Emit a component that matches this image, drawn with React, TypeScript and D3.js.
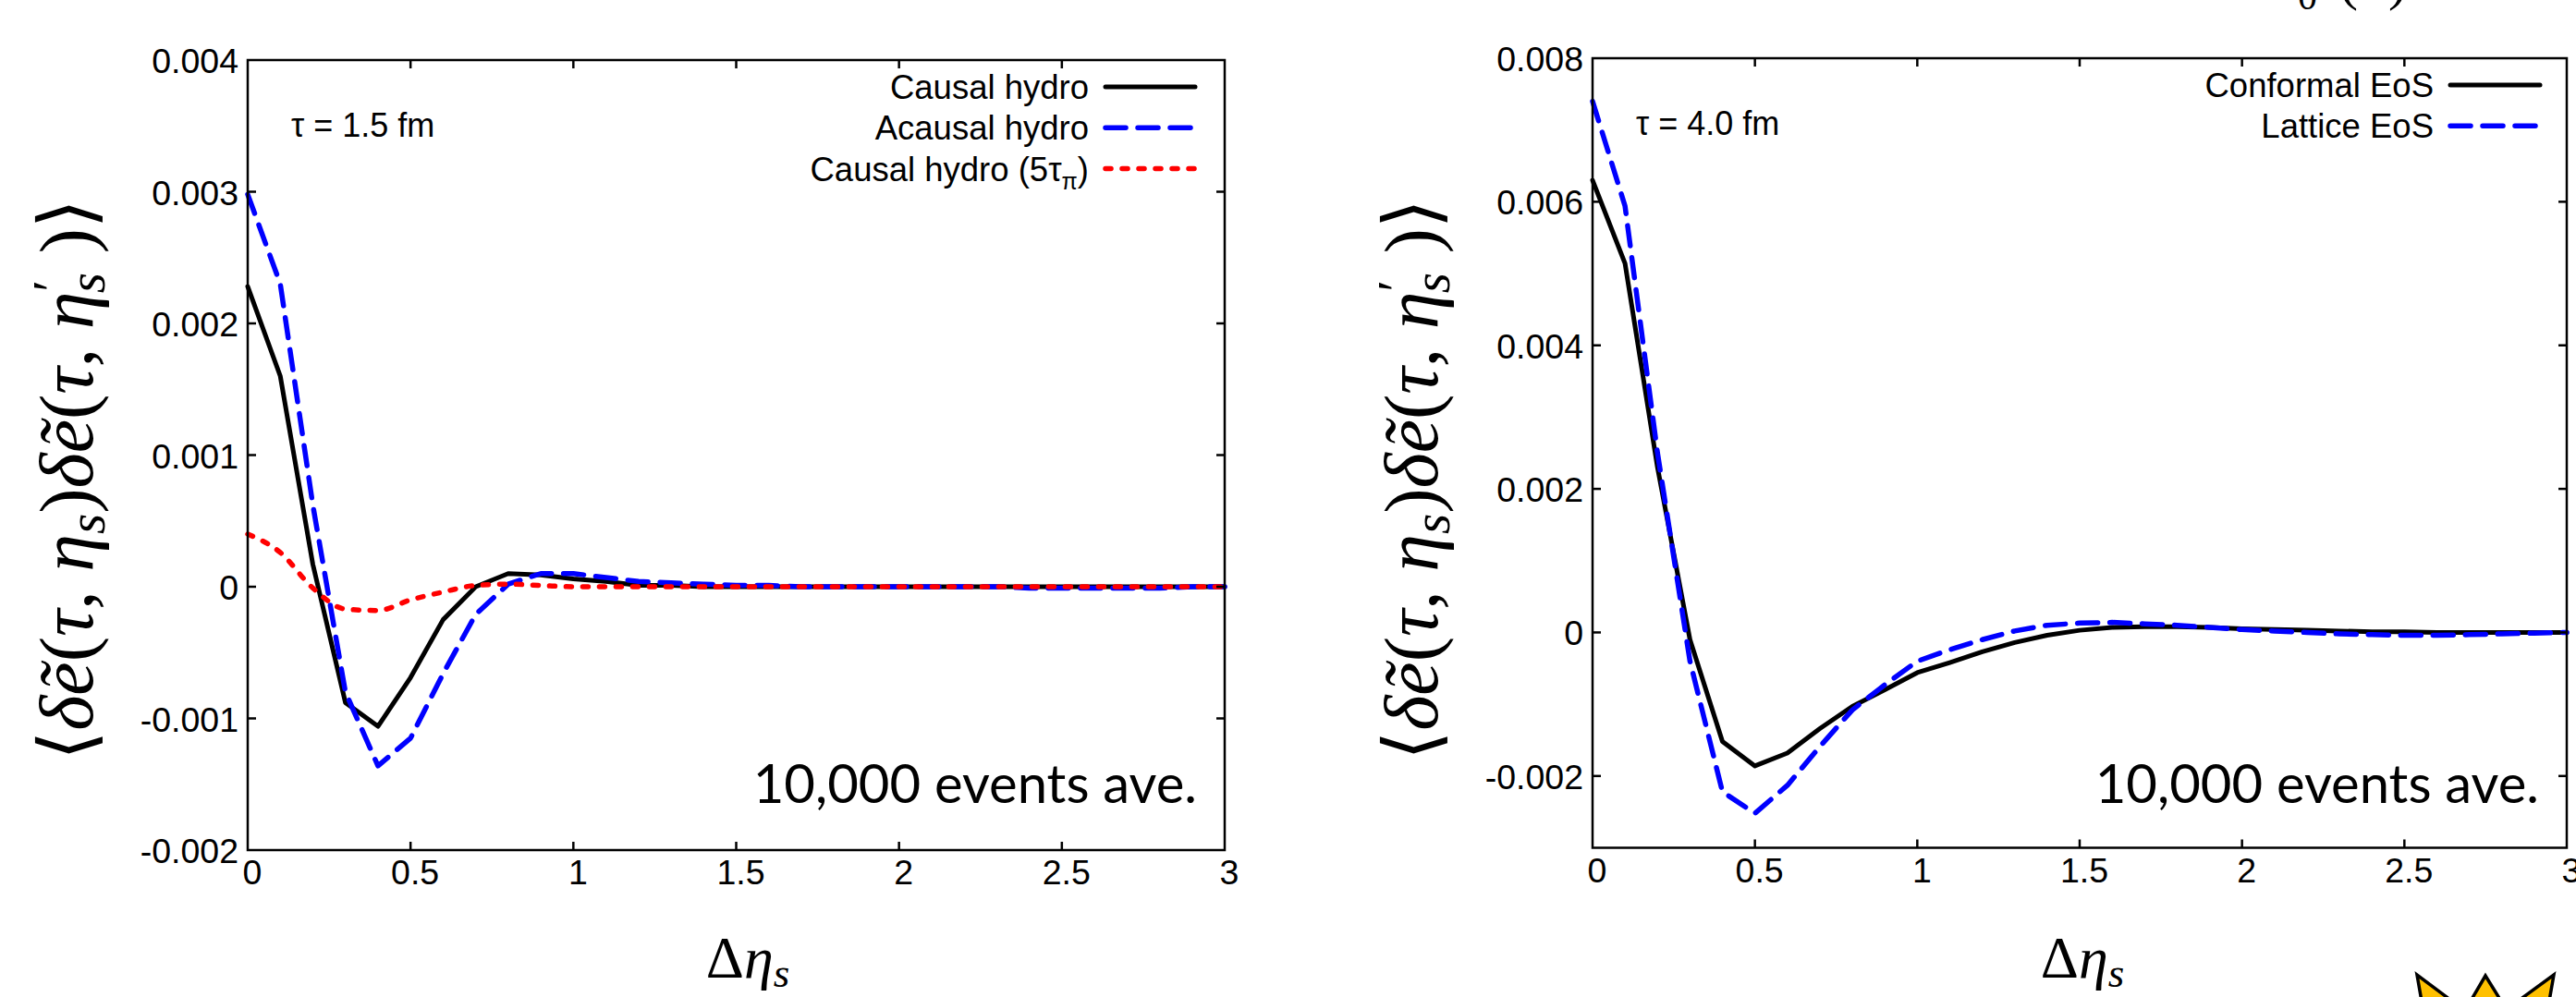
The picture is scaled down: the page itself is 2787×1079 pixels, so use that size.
import React from "react";
import * as d3 from "d3";

// Δη_s grid (step 0.1)
const etaS = [0, 0.1, 0.2, 0.3, 0.4, 0.5, 0.6, 0.7, 0.8, 0.9, 1, 1.1, 1.2, 1.3, 1.4, 1.5, 1.6, 1.7, 1.8, 1.9, 2, 2.1, 2.2, 2.3, 2.4, 2.5, 2.6, 2.7, 2.8, 2.9, 3];

// tau = 1.5 fm panel
const causalHydro = [0.00228, 0.0016, 0.00017, -0.00088, -0.00106, -0.00069, -0.00025, 0.0, 0.0001, 0.00009, 0.00006, 0.00004, 0.00001, 0.00001, 0, 0, 0, 0, 0, 0, 0, 0, 0, 0, 0, 0, 0, 0, 0, 0, 0];
const acausalHydro = [0.00298, 0.0023, 0.00062, -0.0008, -0.00136, -0.00115, -0.00066, -0.00021, 0.00002, 0.0001, 0.0001, 0.00007, 0.00004, 0.00003, 0.00002, 0.00001, 0.00001, 0, 0, 0, 0, 0, 0, 0, -0.00001, -0.00001, -0.00001, -0.00001, -0.00001, 0, 0];
const causalHydro5 = [0.0004, 0.00026, -0.00001, -0.00017, -0.00018, -0.0001, -0.00004, 0.00001, 0.00002, 0.00001, 0, 0, 0, 0, 0, 0, 0, 0, 0, 0, 0, 0, 0, 0, 0, 0, 0, 0, 0, 0, 0];

// tau = 4.0 fm panel
const conformalEoS = [0.0063, 0.00514, 0.0023, -0.0001, -0.00152, -0.00186, -0.00168, -0.00134, -0.00103, -0.0008, -0.00056, -0.00042, -0.00027, -0.00014, -0.00004, 0.00003, 0.00007, 0.00008, 0.00008, 0.00007, 0.00005, 0.00004, 0.00003, 0.00002, 0.00001, 0.00001, 0, 0, 0, 0, 0];
const latticeEoS = [0.0074, 0.00594, 0.0025, -0.0004, -0.00222, -0.00252, -0.00213, -0.00159, -0.00108, -0.00073, -0.0004, -0.00024, -0.0001, 0.00002, 0.0001, 0.00013, 0.00014, 0.00012, 0.0001, 0.00007, 0.00004, 0.00002, 0, -0.00002, -0.00003, -0.00004, -0.00004, -0.00003, -0.00002, -0.00001, 0];

const xTicks = [0, 0.5, 1, 1.5, 2, 2.5, 3];
const leftYTicks = [-0.002, -0.001, 0, 0.001, 0.002, 0.003, 0.004];
const rightYTicks = [-0.002, 0, 0.002, 0.004, 0.006, 0.008];

const SANS = "'Liberation Sans', Arial, sans-serif";
const SERIF = "'Liberation Serif', 'DejaVu Serif', serif";

const fmtY = (v: number) => (Math.abs(v) < 1e-12 ? "0" : v.toFixed(3));

type Series = {
  name: React.ReactNode;
  values: number[];
  color: string;
  dash?: string;
  width: number;
  smooth?: boolean;
};

type PanelProps = {
  x0: number; x1: number; y0: number; y1: number;
  yDomain: [number, number];
  yTicks: number[];
  series: Series[];
  tau: string;
  legendRight: number;
  xTitleX: number;
};

function YTitle({ x, y }: { x: number; y: number }) {
  return (
    <text transform={`translate(${x},${y}) rotate(-90)`} textAnchor="middle" fontFamily={SERIF} fontSize={82} fill="black">
      <tspan>⟨</tspan>
      <tspan fontStyle="italic">δẽ</tspan>
      <tspan>(</tspan>
      <tspan fontStyle="italic">τ</tspan>
      <tspan>, </tspan>
      <tspan fontStyle="italic">η</tspan>
      <tspan fontStyle="italic" fontSize={57} dy={13}>s</tspan>
      <tspan dy={-13}>)</tspan>
      <tspan fontStyle="italic">δẽ</tspan>
      <tspan>(</tspan>
      <tspan fontStyle="italic">τ</tspan>
      <tspan>, </tspan>
      <tspan fontStyle="italic">η</tspan>
      <tspan fontSize={57} dy={-25}>′</tspan>
      <tspan fontStyle="italic" fontSize={57} dx={-14} dy={38}>s</tspan>
      <tspan dy={-13}> )⟩</tspan>
    </text>
  );
}

function Panel({ x0, x1, y0, y1, yDomain, yTicks, series, tau, legendRight, xTitleX }: PanelProps) {
  const xScale = d3.scaleLinear().domain([0, 3]).range([x0, x1]);
  const yScale = d3.scaleLinear().domain(yDomain).range([y1, y0]);
  const tickLen = 9;

  return (
    <g>
      {series.map((s, k) => {
        const line = d3.line<number>()
          .x((_, i) => xScale(etaS[i]))
          .y((d) => yScale(d))
          .curve(s.smooth ? d3.curveMonotoneX : d3.curveLinear);
        return (
          <path key={k} d={line(s.values) || ""} fill="none" stroke={s.color} strokeWidth={s.width}
            strokeDasharray={s.dash} strokeLinecap="round" strokeLinejoin="round" />
        );
      })}

      <rect x={x0} y={y0} width={x1 - x0} height={y1 - y0} fill="none" stroke="black" strokeWidth={2.5} />

      {xTicks.map((t) => (
        <g key={"x" + t}>
          {t > 0 && t < 3 && (
            <>
              <line x1={xScale(t)} x2={xScale(t)} y1={y1} y2={y1 - tickLen} stroke="black" strokeWidth={2.5} />
              <line x1={xScale(t)} x2={xScale(t)} y1={y0} y2={y0 + tickLen} stroke="black" strokeWidth={2.5} />
            </>
          )}
          <text x={xScale(t) + 5} y={y1 + 37} textAnchor="middle" fontFamily={SANS} fontSize={37.5} fill="black">{String(t)}</text>
        </g>
      ))}

      {yTicks.map((t) => (
        <g key={"y" + t}>
          {t > yDomain[0] && t < yDomain[1] && (
            <>
              <line x1={x0} x2={x0 + tickLen} y1={yScale(t)} y2={yScale(t)} stroke="black" strokeWidth={2.5} />
              <line x1={x1} x2={x1 - tickLen} y1={yScale(t)} y2={yScale(t)} stroke="black" strokeWidth={2.5} />
            </>
          )}
          <text x={x0 - 10} y={yScale(t) + 14} textAnchor="end" fontFamily={SANS} fontSize={37.5} fill="black">{fmtY(t)}</text>
        </g>
      ))}

      {series.map((s, k) => {
        const ry = y0 + 29 + k * 44.3;
        return (
          <g key={"lg" + k}>
            <text x={legendRight - 115} y={ry + 13} textAnchor="end" fontFamily={SANS} fontSize={36.5} fill="black">{s.name}</text>
            <line x1={legendRight - 97} x2={legendRight} y1={ry} y2={ry} stroke={s.color} strokeWidth={s.width}
              strokeDasharray={s.dash} strokeLinecap="round" />
          </g>
        );
      })}

      <text x={x0 + 47} y={y0 + 83} fontFamily={SANS} fontSize={36} fill="black">{tau}</text>
      <text x={x1 - 30} y={869} textAnchor="end" fontFamily="Lato, 'Open Sans', sans-serif" fontSize={58} fill="black">10,000 events ave.</text>

      <YTitle x={x0 - 168} y={519} />
      <text x={xTitleX} y={1058} textAnchor="middle" fontFamily={SERIF} fontSize={64} fill="black">
        <tspan>Δ</tspan>
        <tspan fontStyle="italic">η</tspan>
        <tspan fontStyle="italic" fontSize={45} dy={10}>s</tspan>
      </text>
    </g>
  );
}

export default function App() {
  const solid = undefined;
  const dashed = "22 13";
  const dotted = "6 12";
  return (
    <svg width={2787} height={1079} style={{ position: "absolute", left: 0, top: 0, display: "block" }}>
      <rect x={0} y={0} width={2787} height={1079} fill="white" />
      <Panel
        x0={268} x1={1325} y0={65} y1={920}
        yDomain={[-0.002, 0.004]} yTicks={leftYTicks}
        tau="τ = 1.5 fm" legendRight={1293} xTitleX={809}
        series={[
          { name: "Causal hydro", values: causalHydro, color: "black", dash: solid, width: 5 },
          { name: "Acausal hydro", values: acausalHydro, color: "#0000ff", dash: dashed, width: 5.5 },
          {
            name: (<><tspan>Causal hydro (5τ</tspan><tspan fontSize={25} dy={9}>π</tspan><tspan dy={-9}>)</tspan></>),
            values: causalHydro5, color: "#ff0000", dash: dotted, width: 5.5, smooth: true,
          },
        ]}
      />
      <Panel
        x0={1723} x1={2777} y0={63} y1={917.5}
        yDomain={[-0.003, 0.008]} yTicks={rightYTicks}
        tau="τ = 4.0 fm" legendRight={2748} xTitleX={2253}
        series={[
          { name: "Conformal EoS", values: conformalEoS, color: "black", dash: solid, width: 5 },
          { name: "Lattice EoS", values: latticeEoS, color: "#0000ff", dash: dashed, width: 5.5 },
        ]}
      />

      {/* cut-off label above the right panel */}
      <text y={-1} fontFamily={SERIF} fontSize={60} fill="black">
        <tspan x={2440} fontStyle="italic">ε</tspan>
        <tspan x={2486} dy={11} fontSize={42}>0</tspan>
        <tspan x={2531} dy={-11}>(</tspan>
        <tspan fontStyle="italic">τ</tspan>
        <tspan x={2584}>)</tspan>
      </text>

      {/* crown decoration, bottom right */}
      <polygon
        points="2622,1095 2615,1055 2655,1085 2672,1085 2689,1056 2707,1085 2722,1085 2763,1055 2756,1095"
        fill="#ffc000" stroke="black" strokeWidth={3.5} strokeLinejoin="miter" />
    </svg>
  );
}
